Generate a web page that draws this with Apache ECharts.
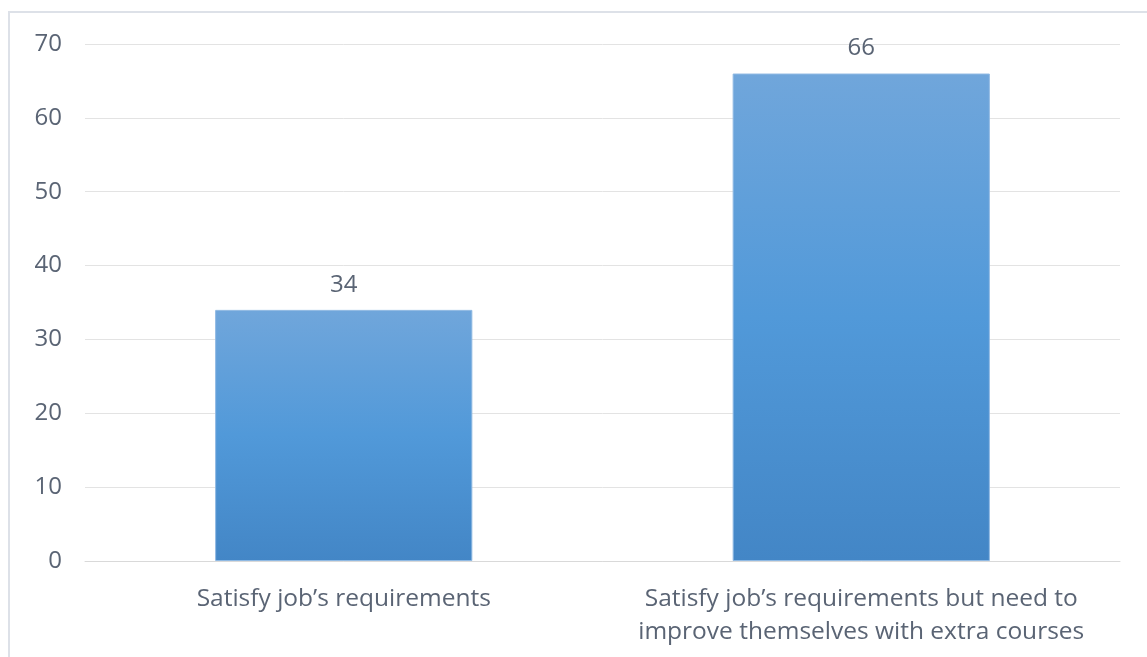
<!DOCTYPE html>
<html>
<head>
<meta charset="utf-8">
<script src="https://cdn.jsdelivr.net/npm/echarts@6/dist/echarts.min.js"></script>
<style>
html,body{margin:0;padding:0;background:#fff;}
#chart{width:1147px;height:657px;}
</style>
</head>
<body>
<div id="chart"></div>
<script>
const categories = ["Satisfy job\u2019s requirements", "Satisfy job\u2019s requirements but need to\nimprove themselves with extra courses"];
const values = [34, 66];
const yTicks = [0, 10, 20, 30, 40, 50, 60, 70];

const chart = echarts.init(document.getElementById('chart'));
const textColor = '#5a6474';
const fontFamily = '"Open Sans", sans-serif';
chart.setOption({
  animation: false,
  graphic: [{
    type: 'rect', z: -10, silent: true,
    shape: { x: 9, y: 12, width: 1200, height: 700 },
    style: { fill: 'none', stroke: '#dde1e8', lineWidth: 2 }
  }],
  grid: { left: 85, right: 27, top: 44, bottom: 96 },
  xAxis: {
    type: 'category',
    data: categories,
    axisTick: { show: false },
    axisLine: { lineStyle: { color: '#d9d9d9', width: 1 } },
    axisLabel: { color: textColor, fontSize: 24.5, fontFamily: fontFamily, margin: 22, lineHeight: 33, interval: 0 }
  },
  yAxis: {
    type: 'value',
    min: yTicks[0], max: yTicks[yTicks.length - 1], interval: 10,
    axisLine: { show: false },
    axisTick: { show: false },
    splitLine: { lineStyle: { color: '#e3e3e3', width: 1 } },
    axisLabel: { color: textColor, fontSize: 24, fontFamily: fontFamily, margin: 23 }
  },
  series: [{
    type: 'bar',
    data: values,
    barWidth: '49.7%',
    itemStyle: {
      color: new echarts.graphic.LinearGradient(0, 0, 0, 1, [
        { offset: 0, color: '#70a6db' },
        { offset: 0.5, color: '#5199d9' },
        { offset: 1, color: '#4386c6' }
      ]),
      borderColor: '#8fb9e3', borderWidth: 1
    },
    label: { show: true, position: 'top', distance: 13, color: textColor, fontSize: 24, fontFamily: fontFamily }
  }]
});
</script>
</body>
</html>
